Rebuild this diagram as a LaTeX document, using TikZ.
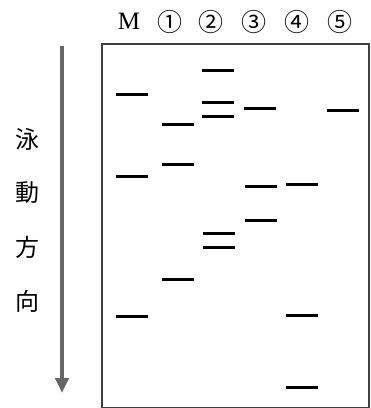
\documentclass[tikz,border=0pt]{standalone}
\usepackage{fontspec}
\setmainfont{Liberation Serif}
\newfontfamily\cjkfont{Noto Sans CJK JP}
\usetikzlibrary{arrows.meta}
\begin{document}
\begin{tikzpicture}[x=1pt,y=-1pt,
  band/.style={fill=black,inner sep=0pt,minimum width=32pt,minimum height=3pt},
  lanelabel/.style={inner sep=0pt,font=\cjkfont\fontsize{25}{25}\selectfont},
  mlabel/.style={inner sep=0pt,font=\fontsize{25}{25}\selectfont},
  dirlabel/.style={inner sep=0pt,font=\cjkfont\fontsize{24}{24}\selectfont},
  gelbox/.style={draw=black!75,line width=2pt}]
\useasboundingbox (0,0) rectangle (371,408);
% gel outline
\node[gelbox,inner sep=0pt,minimum width=267pt,minimum height=364pt,anchor=north west] (gel) at (101,42.5) {};
% lane labels
\node[mlabel] (lM) at (129,21) {M};
\node[lanelabel] (l1) at (170,22) {①};
\node[lanelabel] (l2) at (211,22) {②};
\node[lanelabel] (l3) at (254,22) {③};
\node[lanelabel] (l4) at (297,22) {④};
\node[lanelabel] (l5) at (340,22) {⑤};
% direction arrow
\coordinate (atop) at (62,46);
\coordinate (abot) at (62,393);
\draw[line width=4pt,black!60,-{Triangle[width=13pt,length=15pt]}] (atop) -- (abot);
% direction text
\node[dirlabel] (d1) at (28,139) {泳};
\node[dirlabel] (d2) at (28,193) {動};
\node[dirlabel] (d3) at (28,247) {方};
\node[dirlabel] (d4) at (28,301) {向};
% bands: M
\node[band] (bM1) at (132,94.5) {};
\node[band] (bM2) at (132,176.5) {};
\node[band] (bM3) at (132,316.5) {};
% lane 1
\node[band] (b11) at (178,124.5) {};
\node[band] (b12) at (178,164.5) {};
\node[band] (b13) at (178,279.5) {};
% lane 2
\node[band] (b21) at (218,70.5) {};
\node[band] (b22) at (218,102.5) {};
\node[band] (b23) at (218,116.5) {};
\node[band] (b24) at (219,233.5) {};
\node[band] (b25) at (219,247.5) {};
% lane 3
\node[band] (b31) at (260,108.5) {};
\node[band] (b32) at (261,186.5) {};
\node[band] (b33) at (261,220.5) {};
% lane 4
\node[band] (b41) at (302,184.5) {};
\node[band] (b42) at (302,315.5) {};
\node[band] (b43) at (302,387.5) {};
% lane 5
\node[band] (b51) at (343,110.5) {};
\end{tikzpicture}
\end{document}
